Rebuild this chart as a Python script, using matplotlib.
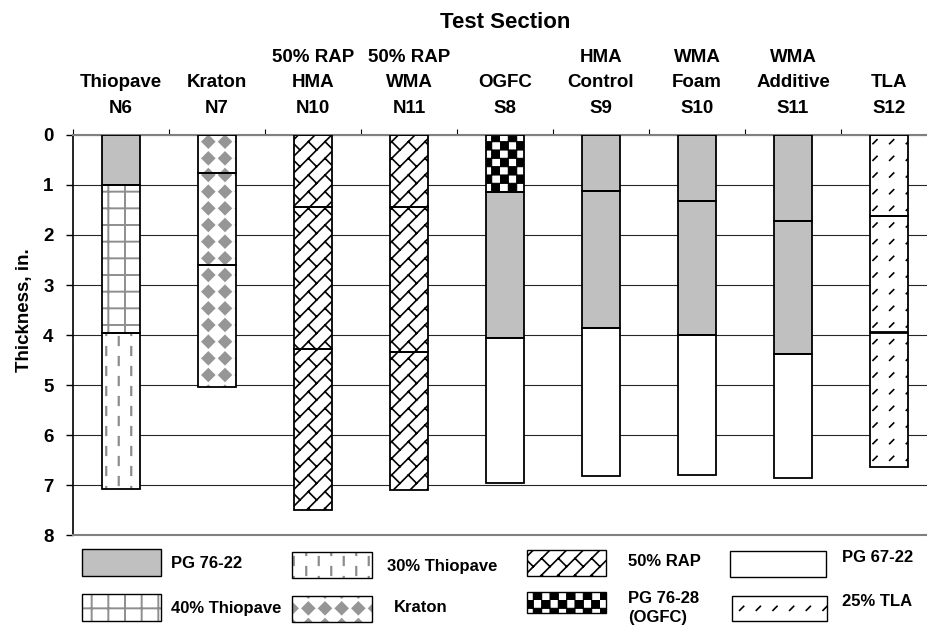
import numpy as np
import matplotlib
matplotlib.use('Agg')
import matplotlib.pyplot as plt
import matplotlib.hatch as mhatch
from matplotlib.path import Path
from matplotlib.patches import Rectangle

# ---------------- data ----------------
sections = ['Thiopave\nN6', 'Kraton\nN7', '50% RAP\nHMA\nN10', '50% RAP\nWMA\nN11',
            'OGFC\nS8', 'HMA\nControl\nS9', 'WMA\nFoam\nS10', 'WMA\nAdditive\nS11',
            'TLA\nS12']
# lift thicknesses (in.), top lift first
lift1_thk = [1.00, 0.77, 1.45, 1.44, 1.15, 1.13, 1.33, 1.73, 1.63]
lift2_thk = [2.95, 1.83, 2.83, 2.91, 2.90, 2.72, 2.66, 2.65, 2.32]
lift3_thk = [3.12, 2.43, 3.21, 2.75, 2.90, 2.97, 2.81, 2.48, 2.68]
lift1_mat = ['PG 76-22', 'Kraton', '50% RAP', '50% RAP', 'PG 76-28\n(OGFC)',
             'PG 76-22', 'PG 76-22', 'PG 76-22', '25% TLA']
lift2_mat = ['40% Thiopave', 'Kraton', '50% RAP', '50% RAP', 'PG 76-22',
             'PG 76-22', 'PG 76-22', 'PG 76-22', '25% TLA']
lift3_mat = ['30% Thiopave', 'Kraton', '50% RAP', '50% RAP', 'PG 67-22',
             'PG 67-22', 'PG 67-22', 'PG 67-22', '25% TLA']
legend_labels = ['PG 76-22', '30% Thiopave', '50% RAP', 'PG 67-22',
                 '40% Thiopave', 'Kraton', 'PG 76-28\n(OGFC)', '25% TLA']
yticks = [0, 1, 2, 3, 4, 5, 6, 7, 8]

# ---------------- custom hatch patterns ----------------
def seg_path(segs):
    v, c = [], []
    for x0, y0, x1, y1 in segs:
        v += [(x0, y0), (x1, y1)]
        c += [Path.MOVETO, Path.LINETO]
    return Path(np.array(v, float), np.array(c, dtype=Path.code_type))

def poly_path(polys):
    v, c = [], []
    for p in polys:
        v += list(p) + [p[0]]
        c += [Path.MOVETO] + [Path.LINETO] * (len(p) - 1) + [Path.CLOSEPOLY]
    return Path(np.array(v, float), np.array(c, dtype=Path.code_type))

segs = []
for i in range(8):
    xx = (i + 0.5) / 8
    for j in range(-1, 6):
        y0 = j * 0.2 + (i % 2) * 0.1 + 0.05
        segs.append((xx, y0, xx, y0 + 0.08))
DASH_PATH = seg_path(segs)

polys = []
for i in range(6):
    for j in range(6):
        cx, cy, a = (i + 0.5) / 6, (j + 0.5) / 6, 0.061
        polys.append([(cx - a, cy), (cx, cy + a), (cx + a, cy), (cx, cy - a)])
DIAM_PATH = poly_path(polys)

segs = []
for k in range(-6, 7):
    c = k / 6
    segs.append((-0.1, -0.1 + c, 1.1, 1.1 + c))
for k in range(-7, 8):
    for m in range(-2, 9):
        x0 = m / 6
        y0 = x0 + k / 6
        segs.append((x0, y0, x0 - 1 / 12, y0 + 1 / 12))
BRICK_PATH = seg_path(segs)

polys = []
e = 1 / 12
for i in range(12):
    for j in range(12):
        if (i + j) % 2 == 0:
            xa, ya, xb, yb = i * e, j * e, (i + 1) * e, (j + 1) * e
            polys.append([(xa, ya), (xb, ya), (xb, yb), (xa, yb)])
CHECK_PATH = poly_path(polys)

segs = []
for i in range(6):
    for j in range(6):
        cx, cy = (i + 0.5) / 6, (j + 0.5) / 6
        segs.append((cx - 0.02, cy - 0.02, cx + 0.02, cy + 0.02))
TLA_PATH = seg_path(segs)

CUSTOM = {'|.|': DASH_PATH, 'o*o': DIAM_PATH, '/\\/': BRICK_PATH,
          'O.O': CHECK_PATH, '/./': TLA_PATH}
_orig_get_path = mhatch.get_path

def _get_path(hatchpattern, density=6):
    if hatchpattern in CUSTOM:
        return CUSTOM[hatchpattern]
    return _orig_get_path(hatchpattern, density)

mhatch.get_path = _get_path

# face colour, hatch, hatch colour, hatch linewidth
STYLE = {
    'PG 76-22': ('#c0c0c0', None, '#c0c0c0', 1.2),
    '40% Thiopave': ('white', '+', '#8e8e8e', 1.4),
    '30% Thiopave': ('white', '|.|', '#8c8c8c', 1.6),
    'Kraton': ('white', 'o*o', '#969696', 1.2),
    '50% RAP': ('white', '/\\/', 'black', 1.2),
    'PG 76-28\n(OGFC)': ('white', 'O.O', 'black', 0.8),
    'PG 67-22': ('white', None, 'white', 1.2),
    '25% TLA': ('white', '/./', 'black', 1.2),
}

plt.rcParams['font.family'] = ['Liberation Sans', 'DejaVu Sans']
plt.rcParams['hatch.linewidth'] = 1.3

def style_patch(p, mat):
    face, hatch, hc, hlw = STYLE[mat]
    p.set_facecolor(face)
    p.set_edgecolor(hc)
    p.set_hatch(hatch)
    if hasattr(p, 'set_hatch_linewidth'):
        p.set_hatch_linewidth(hlw)

W, H = 927, 639
fig = plt.figure(figsize=(W / 100, H / 100), dpi=100)

# legend area (figure pixel coordinates)
lax = fig.add_axes([0, 0, 1, 1])
lax.set_xlim(0, W)
lax.set_ylim(H, 0)
lax.axis('off')

ax = fig.add_axes([73 / W, (H - 535) / H, 864 / W, 400 / H])
x = np.arange(len(sections))
bottom = np.zeros(len(sections))
for thk, mats in [(lift1_thk, lift1_mat), (lift2_thk, lift2_mat), (lift3_thk, lift3_mat)]:
    bars = ax.bar(x + 0.5, thk, width=0.4, bottom=bottom, linewidth=0, zorder=2)
    for p, m in zip(bars, mats):
        style_patch(p, m)
    ax.bar(x + 0.5, thk, width=0.4, bottom=bottom, fill=False,
           edgecolor='black', linewidth=1.3, zorder=3)
    bottom = bottom + np.array(thk)

ax.set_ylim(8, 0)
ax.set_xlim(0, len(sections))
ax.set_yticks(yticks)
ax.set_yticklabels([str(v) for v in yticks], fontsize=13.5, fontweight='bold')
ax.tick_params(axis='y', which='major', direction='out', length=5, width=1,
               pad=9, left=True, right=False, color='black')
ax.yaxis.grid(True, color='#262626', linewidth=0.8)
ax.set_axisbelow(True)

ax.xaxis.tick_top()
ax.set_xticks(np.arange(len(sections) + 1))
ax.set_xticklabels([])
ax.set_xticks(x + 0.5, minor=True)
ax.set_xticklabels(sections, minor=True, fontsize=13.5, fontweight='bold', linespacing=1.65)
ax.tick_params(axis='x', which='major', direction='out', length=4.5, width=0.8,
               top=True, bottom=False, labeltop=False, labelbottom=False)
ax.tick_params(axis='x', which='minor', length=0, pad=13, top=True, bottom=False,
               labeltop=True, labelbottom=False)

for s in ['top', 'bottom']:
    ax.spines[s].set_color('#808080')
    ax.spines[s].set_linewidth(1.5)
ax.spines['right'].set_visible(False)
ax.spines['left'].set_color('black')
ax.spines['left'].set_linewidth(1.2)

fig.text(505 / W, 1 - 28 / H, 'Test Section', ha='center', va='baseline',
         fontsize=16, fontweight='bold')
fig.text(25 / W, 1 - 310 / H, 'Thickness, in.', ha='center', va='center',
         rotation=90, fontsize=13.5, fontweight='bold')

# legend boxes: (x, y, w, h) swatch and text anchor, in figure pixels
swatches = [(82, 549, 79, 27), (292, 552, 80, 26), (527, 550, 79, 26), (730, 551, 96, 26),
            (82, 594, 79, 27), (292, 596, 80, 26), (527, 592, 79, 21), (732, 596, 95, 25)]
text_pos = [(171, 563), (387, 567), (628, 561), (842, 557),
            (171, 608), (394, 608), (628, 591), (842, 602)]
for lab, (sx, sy, sw, sh), (tx, ty) in zip(legend_labels, swatches, text_pos):
    r = Rectangle((sx, sy), sw, sh, linewidth=0)
    style_patch(r, lab)
    lax.add_patch(r)
    lax.add_patch(Rectangle((sx, sy), sw, sh, fill=False, edgecolor='black', linewidth=1.0))
    if '\n' in lab:
        lax.text(tx, ty, lab, ha='left', va='top', fontsize=12, fontweight='bold',
                 linespacing=1.3)
    else:
        lax.text(tx, ty, lab, ha='left', va='center', fontsize=12, fontweight='bold')

fig.savefig('out.png', dpi=100)
